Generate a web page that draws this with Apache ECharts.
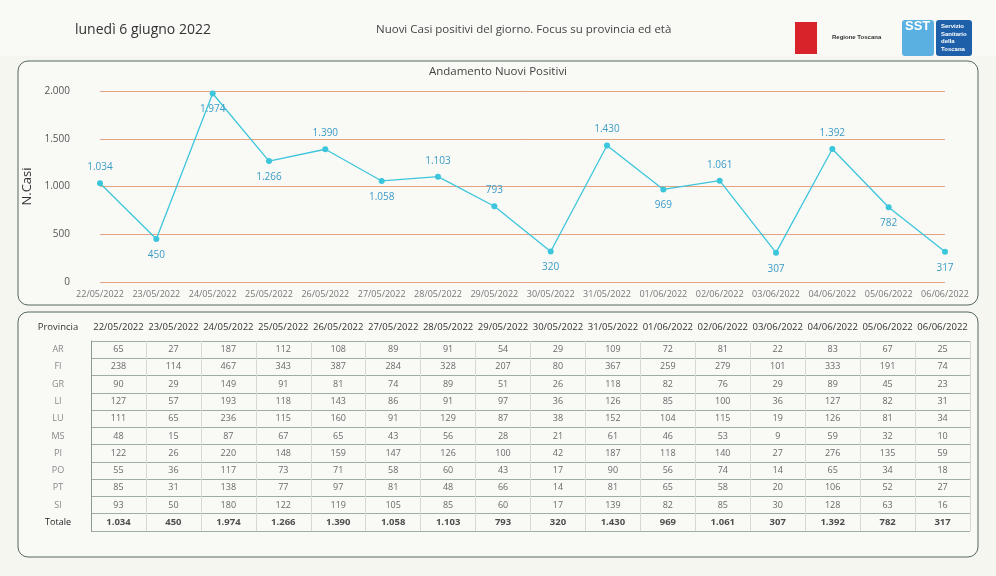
<!DOCTYPE html>
<html><head><meta charset="utf-8">
<script src="https://cdn.jsdelivr.net/npm/echarts@6/dist/echarts.min.js"></script>
<style>html,body{margin:0;padding:0;background:#f6f6f1;}#c{width:996px;height:576px;}</style>
</head><body><div id="c"></div>
<script>
const dates=["22/05/2022","23/05/2022","24/05/2022","25/05/2022","26/05/2022","27/05/2022","28/05/2022","29/05/2022","30/05/2022","31/05/2022","01/06/2022","02/06/2022","03/06/2022","04/06/2022","05/06/2022","06/06/2022"];
const totals=[1034,450,1974,1266,1390,1058,1103,793,320,1430,969,1061,307,1392,782,317];
const provinces=["AR","FI","GR","LI","LU","MS","PI","PO","PT","SI"];
const AR=[65,27,187,112,108,89,91,54,29,109,72,81,22,83,67,25];
const FI=[238,114,467,343,387,284,328,207,80,367,259,279,101,333,191,74];
const GR=[90,29,149,91,81,74,89,51,26,118,82,76,29,89,45,23];
const LI=[127,57,193,118,143,86,91,97,36,126,85,100,36,127,82,31];
const LU=[111,65,236,115,160,91,129,87,38,152,104,115,19,126,81,34];
const MS=[48,15,87,67,65,43,56,28,21,61,46,53,9,59,32,10];
const PI=[122,26,220,148,159,147,126,100,42,187,118,140,27,276,135,59];
const PO=[55,36,117,73,71,58,60,43,17,90,56,74,14,65,34,18];
const PT=[85,31,138,77,97,81,48,66,14,81,65,58,20,106,52,27];
const SI=[93,50,180,122,119,105,85,60,17,139,82,85,30,128,63,16];
const rows=[AR,FI,GR,LI,LU,MS,PI,PO,PT,SI];
const fmt=v=>v.toLocaleString('de-DE');
const above=[1,0,0,0,1,0,1,1,0,1,0,1,0,1,0,0];
const rowCats=provinces.concat(["Totale"]);
const cells=[];
rows.forEach((r,ri)=>r.forEach((v,ci)=>cells.push([ci,ri,v])));
const totCells=totals.map((v,ci)=>[ci,10,v]);
const F='"Open Sans", "Noto Sans", sans-serif';
const chart=echarts.init(document.getElementById('c'));
chart.setOption({
  backgroundColor:'#f6f6f1',
  textStyle:{fontFamily:F},
  graphic:[
    {type:'rect',shape:{x:0,y:0,width:996,height:56},style:{fill:'#f9f9f6'},z:-10},
    {type:'rect',shape:{x:18,y:61,width:960,height:244,r:10},style:{fill:'#f9f9f6',stroke:'#55685f',lineWidth:1},z:-5},
    {type:'rect',shape:{x:18,y:312,width:960,height:245,r:10},style:{fill:'#f9f9f6',stroke:'#55685f',lineWidth:1},z:-5},
    {type:'text',left:75,top:23,style:{text:'lunedì 6 giugno 2022',fontSize:14,fill:'#333',fontFamily:F}},
    {type:'text',left:376,top:24,style:{text:'Nuovi Casi positivi del giorno. Focus su provincia ed età',fontSize:11.5,fill:'#444',fontFamily:F}},
    {type:'rect',shape:{x:795,y:22,width:22,height:32},style:{fill:'#d8232a'}},
    {type:'text',left:832,top:34,style:{text:'Regione Toscana',fontSize:6,fontWeight:'bold',fill:'#333'}},
    {type:'rect',shape:{x:902,y:20,width:32,height:36,r:3},style:{fill:'#5ab0e0'}},
    {type:'text',left:905,top:20,style:{text:'SST',fontSize:13,fontWeight:'bold',fill:'#fff'}},
    {type:'rect',shape:{x:936,y:20,width:36,height:36,r:3},style:{fill:'#1d5fa8'}},
    {type:'text',left:941,top:23,style:{text:'Servizio\nSanitario\ndella\nToscana',fontSize:6,fontWeight:'bold',fill:'#fff',lineHeight:7.5}},
    {type:'text',left:'center',top:66,style:{text:'Andamento Nuovi Positivi',fontSize:11.5,fill:'#444',fontFamily:F}}
  ],
  grid:[
    {left:100,right:51,top:91,height:191},
    {left:91,right:26,top:341,height:190}
  ],
  xAxis:[
    {gridIndex:0,type:'category',data:dates,boundaryGap:false,axisLine:{show:false},axisTick:{show:false},
     axisLabel:{fontSize:9,color:'#777',margin:8,interval:0}},
    {gridIndex:1,type:'category',data:dates,position:'top',axisLine:{show:false},axisTick:{show:false},
     axisLabel:{fontSize:9.5,color:'#333',margin:9,interval:0},
     splitLine:{show:true,interval:0,lineStyle:{color:'#d6d9d6'}}}
  ],
  yAxis:[
    {gridIndex:0,type:'value',min:0,max:2000,interval:500,name:'N.Casi',nameLocation:'middle',nameGap:58,
     nameTextStyle:{fontSize:13,color:'#333'},axisLabel:{fontSize:10,color:'#555',formatter:v=>fmt(v),margin:30},
     splitLine:{lineStyle:{color:'#e3a282'}}},
    {gridIndex:1,type:'category',data:rowCats,inverse:true,name:'Provincia',nameLocation:'start',nameGap:9,
     nameTextStyle:{fontSize:9.5,color:'#333',align:'center',padding:[0,0,0,-66]},
     axisLine:{show:true,lineStyle:{color:'#8a9a92'}},axisTick:{show:false},
     axisLabel:{fontSize:9,color:'#888',margin:33,align:'center',
       formatter:v=>v==='Totale'?'{b|Totale}':v,rich:{b:{color:'#222',fontSize:9}}},
     splitLine:{show:true,interval:0,lineStyle:{color:'#9fada6'}}}
  ],
  series:[
    {type:'line',xAxisIndex:0,yAxisIndex:0,data:totals.map((v,i)=>({value:v,label:{position:above[i]?'top':'bottom'}})),
     symbol:'circle',symbolSize:6,lineStyle:{color:'#3cc6dc',width:1.3},itemStyle:{color:'#3cc6dc'},
     label:{show:true,distance:8,fontSize:10,color:'#3a9cc6',formatter:p=>fmt(p.value)}},
    {type:'scatter',xAxisIndex:1,yAxisIndex:1,data:cells,symbolSize:0,silent:true,
     label:{show:true,position:'inside',fontSize:9,color:'#444',formatter:p=>fmt(p.value[2])}},
    {type:'scatter',xAxisIndex:1,yAxisIndex:1,data:totCells,symbolSize:0,silent:true,
     label:{show:true,position:'inside',fontSize:9.5,fontWeight:'bold',color:'#222',formatter:p=>fmt(p.value[2])}}
  ]
});
</script></body></html>
